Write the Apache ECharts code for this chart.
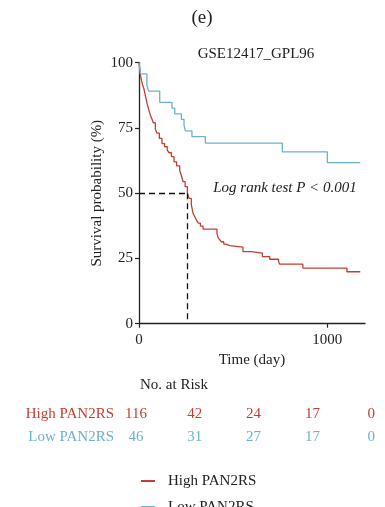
<!DOCTYPE html>
<html>
<head>
<meta charset="utf-8">
<script src="https://cdn.jsdelivr.net/npm/echarts@6/dist/echarts.min.js"></script>
<style>
  html, body { margin: 0; padding: 0; background: #fff; }
  #chart { width: 385px; height: 507px; }
</style>
</head>
<body>
<div id="chart"></div>
<script>
// Kaplan–Meier survival estimates: [time (day), survival (%)]
const highSurvival = [
  [0, 100], [3, 98], [6, 96], [9, 94.8], [14, 93], [19, 91.5], [26, 90],
  [32, 88], [38, 86], [44, 84], [52, 82], [60, 80], [68, 78.5], [76, 77],
  [87, 74.5], [96, 73], [108, 71], [122, 69], [136, 67.8], [150, 66.5],
  [160, 65.5], [172, 64], [186, 62], [200, 60.5], [216, 58.8], [226, 56.5],
  [234, 54.4], [245, 52.5], [257, 50], [266, 48], [278, 45.5], [287, 42.3],
  [296, 41], [305, 39.7], [315, 38.5], [326, 37.4], [340, 36.2], [414, 34.5],
  [420, 33], [428, 32.2], [437, 31.4], [450, 30.5], [462, 29.9], [481, 29.3],
  [552, 27.6], [597, 27.0], [655, 25.7], [694, 24.7], [741, 23.8], [747, 22.8],
  [870, 21.3], [1104, 19.9], [1175, 19.9]
];
const lowSurvival = [
  [0, 100], [8, 95.7], [42, 91.3], [51, 89.1], [110, 84.8], [175, 82.6],
  [190, 80.4], [225, 78.3], [239, 76.1], [246, 73.9], [281, 71.7], [352, 69.2],
  [761, 65.8], [1000, 61.7], [1175, 61.7]
];
const medianHigh = 257;          // median survival of the high-risk group (days)
const xTicks = [0, 1000];
const yTicks = [0, 25, 50, 75, 100];
const groupNames = ['High PAN2RS', 'Low PAN2RS'];
const riskHigh = [116, 42, 24, 17, 0];
const riskLow = [46, 31, 27, 17, 0];

const RED = '#c63d32';
const BLUE = '#6cb1cf';
const FONT = '"Liberation Serif", "DejaVu Serif", serif';
const TXT = '#222';

// number-at-risk table
const table = [];
table.push({ type: 'text', x: 174, y: 385,
  style: { text: 'No. at Risk', font: '15px ' + FONT, fill: TXT, textAlign: 'center', textVerticalAlign: 'middle' } });
[[groupNames[0], riskHigh, RED, 414], [groupNames[1], riskLow, BLUE, 437.5]].forEach(([name, counts, color, y]) => {
  table.push({ type: 'text', x: 114, y,
    style: { text: name, font: '15px ' + FONT, fill: color, textAlign: 'right', textVerticalAlign: 'middle' } });
  counts.forEach((n, i) => {
    table.push({ type: 'text', x: 136 + i * 58.8, y,
      style: { text: String(n), font: '15px ' + FONT, fill: color, textAlign: 'center', textVerticalAlign: 'middle' } });
  });
});

// one legend box per group, stacked vertically
const legendBase = {
  orient: 'vertical', left: 136, itemWidth: 14, itemHeight: 2, icon: 'rect',
  textStyle: { fontFamily: FONT, fontSize: 15, color: TXT, padding: [0, 0, 0, 8] }
};

const chart = echarts.init(document.getElementById('chart'), null, { renderer: 'canvas' });
chart.setOption({
  animation: false,
  backgroundColor: '#fff',
  title: [
    { text: '(e)', left: 197, top: 4, textAlign: 'center',
      textStyle: { fontFamily: FONT, fontSize: 19, fontWeight: 'normal', color: TXT } },
    { text: 'GSE12417_GPL96', left: 251, top: 42, textAlign: 'center',
      textStyle: { fontFamily: FONT, fontSize: 15, fontWeight: 'normal', color: TXT } }
  ],
  grid: { left: 139, right: 20, top: 62.7, bottom: 183.3, containLabel: false },
  xAxis: {
    type: 'value', min: 0, max: 1200,
    name: 'Time (day)', nameLocation: 'middle', nameGap: 29, nameMoveOverlap: false,
    nameTextStyle: { fontFamily: FONT, fontSize: 15, color: TXT },
    axisLine: { show: true, onZero: false, lineStyle: { color: '#222', width: 1.3 } },
    axisTick: { show: true, length: 4, customValues: xTicks, lineStyle: { color: '#222', width: 1.2 } },
    axisLabel: { customValues: xTicks, margin: 9, fontFamily: FONT, fontSize: 15, color: TXT,
      formatter: v => String(v) },
    splitLine: { show: false }
  },
  yAxis: {
    type: 'value', min: 0, max: 100, interval: 25,
    name: 'Survival probability (%)', nameLocation: 'middle', nameGap: 34, nameMoveOverlap: false,
    nameTextStyle: { fontFamily: FONT, fontSize: 15, color: TXT },
    axisLine: { show: true, lineStyle: { color: '#222', width: 1.3 } },
    axisTick: { show: true, length: 4, lineStyle: { color: '#222', width: 1.2 } },
    axisLabel: { margin: 6, fontFamily: FONT, fontSize: 15, color: TXT,
      formatter: v => (yTicks.includes(v) ? String(v) : '') },
    splitLine: { show: false }
  },
  legend: [
    Object.assign({}, legendBase, { top: 468.5, data: [groupNames[0]] }),
    Object.assign({}, legendBase, { top: 494.5, data: [groupNames[1]] })
  ],
  series: [
    {
      name: groupNames[0], type: 'line', step: 'end', showSymbol: false,
      data: highSurvival, color: RED, lineStyle: { color: RED, width: 1.3 },
      markLine: {
        silent: true, symbol: 'none', label: { show: false },
        lineStyle: { color: '#111', type: [6, 4], width: 1.3 },
        data: [
          [{ coord: [0, 50] }, { coord: [medianHigh, 50] }],
          [{ coord: [medianHigh, 50] }, { coord: [medianHigh, 0] }]
        ]
      }
    },
    {
      name: groupNames[1], type: 'line', step: 'end', showSymbol: false,
      data: lowSurvival, color: BLUE, lineStyle: { color: BLUE, width: 1.3 }
    }
  ],
  graphic: [
    { type: 'text', x: 285, y: 188,
      style: { text: 'Log rank test P < 0.001', font: 'italic 15px ' + FONT, fill: TXT,
        textAlign: 'center', textVerticalAlign: 'middle' } },
    ...table
  ]
});
</script>
</body>
</html>
